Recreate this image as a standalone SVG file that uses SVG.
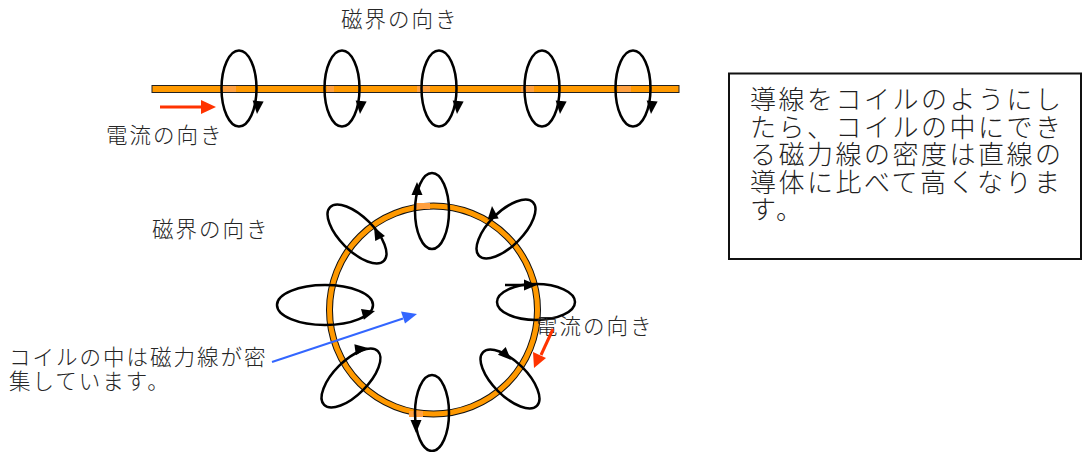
<svg xmlns="http://www.w3.org/2000/svg" xmlns:xlink="http://www.w3.org/1999/xlink" width="1083" height="452" viewBox="0 0 1083 452">
  <style>
    .lbl { font-family: "Noto Sans CJK JP", "Noto Sans CJK SC", sans-serif; font-size: 21.5px; font-weight: 300; letter-spacing: 2px; fill: #262626; }
    .note { font-family: "Noto Sans CJK JP", "Noto Sans CJK SC", sans-serif; font-size: 26px; font-weight: 300; letter-spacing: 2.5px; fill: #1f1f1f; }
    .loop { fill: none; stroke: #000; stroke-width: 2.5; }
    .patch { fill: #FFA040; }
    .wire { fill: #FF9900; stroke: #222; stroke-width: 1; }
  </style>
  <defs>
    <!-- filled arrowhead, tip at origin, pointing along +x -->
    <path id="ah" d="M0,0 L-13,-5.5 L-13,5.5 Z" fill="#000"/>
  </defs>

  <rect width="1083" height="452" fill="#fff"/>

  <!-- straight conductor -->
  <g id="straight-wire">
    <rect class="wire" x="152" y="85.5" width="527" height="7"/>
    <rect class="patch" x="223" y="86" width="13" height="6"/>
    <rect class="patch" x="327" y="86" width="7" height="6"/>
    <rect class="patch" x="417" y="86" width="13" height="6"/>
    <rect class="patch" x="521" y="86" width="13" height="6"/>
    <rect class="patch" x="618" y="86" width="13" height="6"/>
  </g>

  <!-- field loops around the straight conductor -->
  <g id="straight-loop-1">
    <ellipse class="loop" cx="239" cy="88.5" rx="17.5" ry="38"/>
    <use xlink:href="#ah" transform="translate(257,114) rotate(95)"/>
  </g>
  <g id="straight-loop-2">
    <ellipse class="loop" cx="342" cy="88.5" rx="17.5" ry="38"/>
    <use xlink:href="#ah" transform="translate(360,114) rotate(95)"/>
  </g>
  <g id="straight-loop-3">
    <ellipse class="loop" cx="439" cy="88.5" rx="17.5" ry="38"/>
    <use xlink:href="#ah" transform="translate(457,114) rotate(95)"/>
  </g>
  <g id="straight-loop-4">
    <ellipse class="loop" cx="542" cy="88.5" rx="17.5" ry="38"/>
    <use xlink:href="#ah" transform="translate(560,114) rotate(95)"/>
  </g>
  <g id="straight-loop-5">
    <ellipse class="loop" cx="633" cy="88.5" rx="17.5" ry="38"/>
    <use xlink:href="#ah" transform="translate(651,114) rotate(95)"/>
  </g>

  <!-- coiled conductor -->
  <g id="coil-ring">
    <circle cx="433.5" cy="310" r="104" fill="none" stroke="#111" stroke-width="7"/>
    <circle cx="433.5" cy="310" r="104" fill="none" stroke="#FF9900" stroke-width="5"/>
    <rect class="patch" x="416" y="203" width="14" height="6"/>
    <rect class="patch" x="409" y="411" width="14" height="6"/>
  </g>

  <!-- field loops around the coil -->
  <g id="coil-loop-top">
    <ellipse class="loop" cx="432" cy="211" rx="17" ry="38"/>
    <use xlink:href="#ah" transform="translate(417,182) rotate(-90)"/>
  </g>
  <g id="coil-loop-ne">
    <ellipse class="loop" cx="506" cy="229" rx="38" ry="17" transform="rotate(-45 506 229)"/>
    <use xlink:href="#ah" transform="translate(492,206) rotate(-95)"/>
  </g>
  <g id="coil-loop-right">
    <ellipse class="loop" cx="536" cy="302" rx="39" ry="18"/>
    <line x1="505" y1="285" x2="528" y2="285" stroke="#000" stroke-width="2.5"/>
    <use xlink:href="#ah" transform="translate(537,285)"/>
  </g>
  <g id="coil-loop-se">
    <ellipse class="loop" cx="510" cy="379" rx="38" ry="17" transform="rotate(45 510 379)"/>
    <use xlink:href="#ah" transform="translate(511,360) rotate(45)"/>
  </g>
  <g id="coil-loop-bottom">
    <ellipse class="loop" cx="432" cy="413" rx="17" ry="38"/>
    <use xlink:href="#ah" transform="translate(416,433) rotate(90)"/>
  </g>
  <g id="coil-loop-sw">
    <ellipse class="loop" cx="351" cy="378" rx="38" ry="17" transform="rotate(-45 351 378)"/>
    <use xlink:href="#ah" transform="translate(368,348) rotate(-8)"/>
  </g>
  <g id="coil-loop-left">
    <ellipse class="loop" cx="325" cy="305" rx="48" ry="20"/>
    <use xlink:href="#ah" transform="translate(375,311) rotate(-15)"/>
  </g>
  <g id="coil-loop-nw">
    <ellipse class="loop" cx="357" cy="234" rx="38" ry="17" transform="rotate(45 357 234)"/>
    <use xlink:href="#ah" transform="translate(374,227) rotate(-118)"/>
  </g>

  <!-- labels -->
  <g id="label-field-top"><text class="lbl" x="341" y="27">磁界の向き</text></g>
  <g id="label-current-top"><text class="lbl" x="106" y="143">電流の向き</text></g>
  <g id="label-field-coil"><text class="lbl" x="152" y="237">磁界の向き</text></g>
  <g id="label-current-coil"><text class="lbl" x="536" y="334">電流の向き</text></g>
  <g id="label-dense">
    <text class="lbl" x="9" y="365">コイルの中は磁力線が密</text>
    <text class="lbl" x="9" y="389">集しています。</text>
  </g>

  <!-- explanation box -->
  <g id="note-box">
    <rect x="729" y="73.5" width="352" height="185.5" fill="#fff" stroke="#111" stroke-width="2"/>
    <text class="note" x="750" y="109">導線をコイルのようにし</text>
    <text class="note" x="750" y="136.5">たら、コイルの中にでき</text>
    <text class="note" x="750" y="164">る磁力線の密度は直線の</text>
    <text class="note" x="750" y="191.5">導体に比べて高くなりま</text>
    <text class="note" x="750" y="219">す。</text>
  </g>

  <!-- pointer arrows -->
  <g id="connectors">
    <line x1="160" y1="107" x2="203" y2="107" stroke="#FF3300" stroke-width="3"/>
    <path d="M216,107 L201,100 L201,114 Z" fill="#FF3300"/>
    <line x1="553" y1="329" x2="541" y2="355" stroke="#FF3300" stroke-width="3"/>
    <path d="M534,368 L533,352 L546,358 Z" fill="#FF3300"/>
    <line x1="272" y1="362" x2="403" y2="318.5" stroke="#3366FF" stroke-width="2"/>
    <path d="M417,314 L401,311.5 L405,323.5 Z" fill="#3366FF"/>
  </g>
</svg>
